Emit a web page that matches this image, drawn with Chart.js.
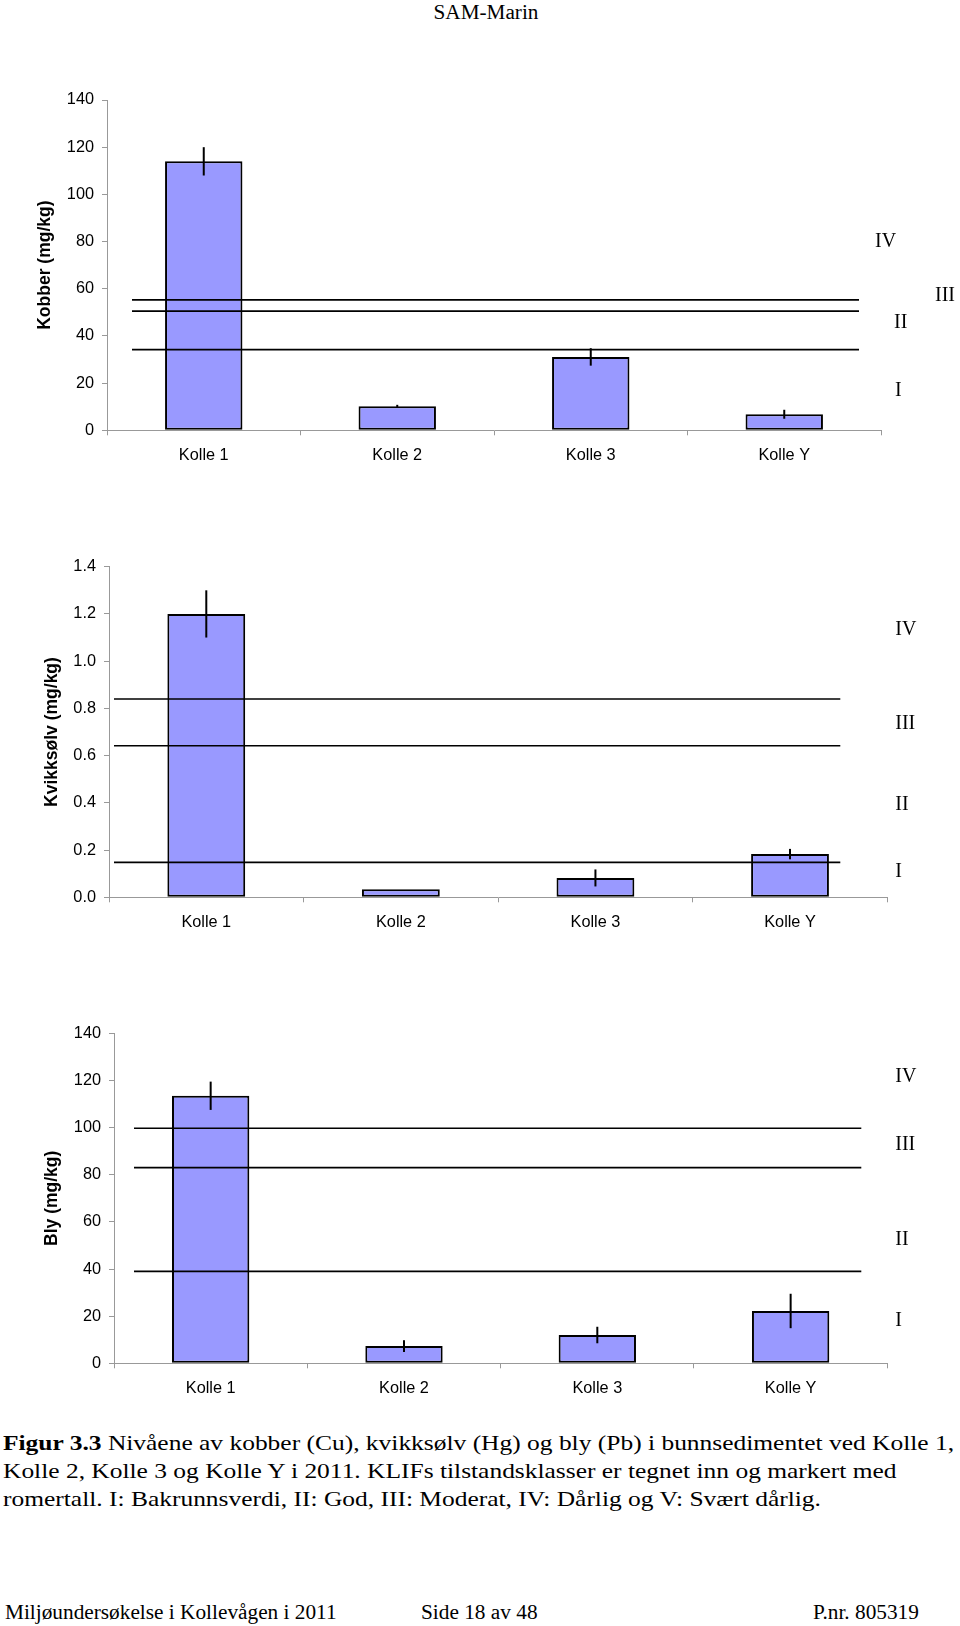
<!DOCTYPE html>
<html lang="no">
<head>
<meta charset="utf-8">
<title>Figur 3.3 – SAM-Marin</title>
<script src="https://cdn.jsdelivr.net/npm/chart.js@4.4.0/dist/chart.umd.min.js"></script>
<style>
    body { margin: 0; background: #fff; }
    #page {
        position: relative; width: 960px; height: 1626px; overflow: hidden;
        font-family: "Liberation Serif", "Times New Roman", serif; color: #000;
    }
    #page canvas { position: absolute; left: 0; }
    .header { position: absolute; top: 0; left: 386px; width: 200px; text-align: center;
              font-size: 20px; line-height: 24px; transform: scaleX(1.06); }
    .caption { position: absolute; left: 3px; font-size: 22px; line-height: 28px;
               white-space: nowrap; transform: scaleX(1.157); transform-origin: left top; }
    .footer { position: absolute; top: 1600px; font-size: 21.3px; line-height: 24px; white-space: nowrap; }
</style>
</head>
<body>
<div id="page">
    <div class="header">SAM-Marin</div>

    <canvas id="chartKobber" width="960" height="430" style="top:60px"></canvas>
    <canvas id="chartKvikksolv" width="960" height="430" style="top:520px"></canvas>
    <canvas id="chartBly" width="960" height="430" style="top:990px"></canvas>

    <div class="caption" style="top:1428.6px"><b>Figur 3.3</b> Nivåene av kobber (Cu), kvikksølv (Hg) og bly (Pb) i bunnsedimentet ved Kolle 1,</div>
    <div class="caption" style="top:1456.9px">Kolle 2, Kolle 3 og Kolle Y i 2011. KLIFs tilstandsklasser er tegnet inn og markert med</div>
    <div class="caption" style="top:1485.3px">romertall. I: Bakrunnsverdi, II: God, III: Moderat, IV: Dårlig og V: Svært dårlig.</div>

    <div class="footer" style="left:5px">Miljøundersøkelse i Kollevågen i 2011</div>
    <div class="footer" style="left:421px">Side 18 av 48</div>
    <div class="footer" style="left:813px">P.nr. 805319</div>
</div>

<script>
/* ------------------------------------------------------------
   Data
   ------------------------------------------------------------ */
const stations = ["Kolle 1", "Kolle 2", "Kolle 3", "Kolle Y"];
const classNames = ["I", "II", "III", "IV"];

// Kobber (Cu), mg/kg
const kobber = [114, 10.2, 31.1, 6.8];
const kobberErr = [6, 0.6, 3.7, 1.9];
const kobberLimits = [34.2, 50.5, 55.3];
const kobberClassAt = [16.8, 45.4, 57, 80];

// Kvikksølv (Hg), mg/kg
const kvikksolv = [1.2, 0.034, 0.082, 0.183];
const kvikksolvErr = [0.1, 0, 0.036, 0.022];
const kvikksolvLimits = [0.148, 0.642, 0.84];
const kvikksolvClassAt = [0.108, 0.39, 0.737, 1.135];

// Bly (Pb), mg/kg
const bly = [113.5, 7.3, 12.0, 22.2];
const blyErr = [6, 2.5, 3.5, 7.3];
const blyLimits = [39, 83, 99.7];
const blyClassAt = [18, 52.6, 92.6, 121.6];

/* ------------------------------------------------------------
   Plugin: error bars, KLIF limit lines and class numerals
   ------------------------------------------------------------ */
function klifLayer(cfg) {
    return {
        id: "klif",
        afterDatasetsDraw(chart) {
            const { ctx, chartArea, scales } = chart;
            const y = scales.y;
            const meta = chart.getDatasetMeta(0);
            ctx.save();
            ctx.strokeStyle = "#000";

            // error bars
            ctx.lineWidth = 2;
            meta.data.forEach((bar, i) => {
                const e = cfg.errors[i];
                if (!e) return;
                ctx.beginPath();
                ctx.moveTo(bar.x, y.getPixelForValue(cfg.values[i] + e));
                ctx.lineTo(bar.x, y.getPixelForValue(cfg.values[i] - e));
                ctx.stroke();
            });

            // limit lines between the classes
            ctx.lineWidth = 1.6;
            cfg.limits.forEach(v => {
                const py = y.getPixelForValue(v);
                ctx.beginPath();
                ctx.moveTo(chartArea.left + cfg.lineStart, py);
                ctx.lineTo(chartArea.right - cfg.lineEnd, py);
                ctx.stroke();
            });

            // roman numerals
            ctx.fillStyle = "#000";
            ctx.font = "20px 'Liberation Serif', 'Times New Roman', serif";
            ctx.textAlign = "left";
            ctx.textBaseline = "middle";
            cfg.classAt.forEach((v, i) => {
                ctx.fillText(classNames[i], chartArea.right + cfg.labelDx[i], y.getPixelForValue(v));
            });
            ctx.restore();
        }
    };
}

/* ------------------------------------------------------------
   Chart builder
   ------------------------------------------------------------ */
Chart.defaults.font.family = "'Liberation Sans', Arial, sans-serif";
Chart.defaults.font.size = 16;
Chart.defaults.color = "#000";

function renderMetalChart(canvasId, cfg) {
    const el = document.getElementById(canvasId);
    const canvasTop = parseFloat(el.style.top);

    return new Chart(el, {
        type: "bar",
        data: {
            labels: stations,
            datasets: [{
                data: cfg.values,
                backgroundColor: "#9999ff",
                borderColor: "#000",
                borderWidth: 2,
                borderSkipped: false,
                categoryPercentage: 1,
                barPercentage: 0.4
            }]
        },
        options: {
            responsive: false,
            animation: false,
            layout: {
                padding: { top: cfg.area.top - canvasTop, right: 960 - cfg.area.right, bottom: 0, left: 0 }
            },
            plugins: { legend: { display: false }, tooltip: { enabled: false } },
            scales: {
                x: {
                    offset: true,
                    grid: { drawOnChartArea: false, offset: true, tickLength: 5, color: "#999" },
                    border: { color: "#999" },
                    ticks: { padding: 10, font: { size: 16.3 } },
                    afterFit: s => { s.height = canvasTop + el.height - cfg.area.bottom; }
                },
                y: {
                    min: 0,
                    max: cfg.max,
                    grid: { drawOnChartArea: false, tickLength: 5, color: "#999" },
                    border: { color: "#999" },
                    ticks: {
                        stepSize: cfg.step,
                        padding: 8,
                        font: { size: 16.3 },
                        callback: v => cfg.decimals ? Number(v).toFixed(cfg.decimals) : v
                    },
                    title: {
                        display: true,
                        text: cfg.title,
                        font: { size: 17.5, weight: "bold" },
                        padding: { top: cfg.titleX - 10.5, bottom: 0 }
                    },
                    afterFit: s => { s.width = cfg.area.left; }
                }
            }
        },
        plugins: [klifLayer(cfg)]
    });
}

/* ------------------------------------------------------------
   Init
   ------------------------------------------------------------ */
renderMetalChart("chartKobber", {
    values: kobber, errors: kobberErr, limits: kobberLimits, classAt: kobberClassAt,
    title: "Kobber (mg/kg)", max: 140, step: 20, decimals: 0,
    area: { left: 107, top: 100, right: 881, bottom: 430.3 },
    titleX: 45, lineStart: 25, lineEnd: 22, labelDx: [14, 13, 54, -6]
});

renderMetalChart("chartKvikksolv", {
    values: kvikksolv, errors: kvikksolvErr, limits: kvikksolvLimits, classAt: kvikksolvClassAt,
    title: "Kvikksølv (mg/kg)", max: 1.4, step: 0.2, decimals: 1,
    area: { left: 109, top: 566.7, right: 887.3, bottom: 897.3 },
    titleX: 52.3, lineStart: 5, lineEnd: 47, labelDx: [8, 8, 8, 8]
});

renderMetalChart("chartBly", {
    values: bly, errors: blyErr, limits: blyLimits, classAt: blyClassAt,
    title: "Bly (mg/kg)", max: 140, step: 20, decimals: 0,
    area: { left: 114, top: 1033.3, right: 887.3, bottom: 1363.3 },
    titleX: 52.3, lineStart: 20, lineEnd: 26, labelDx: [8, 8, 8, 8]
});
</script>
</body>
</html>
